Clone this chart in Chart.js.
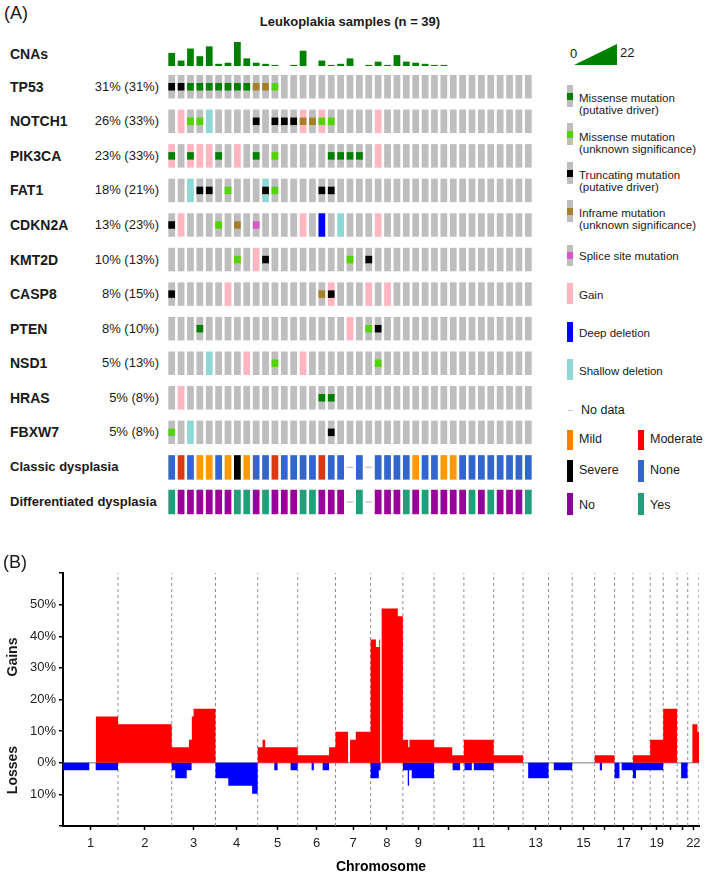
<!DOCTYPE html>
<html>
<head>
<meta charset="utf-8">
<title>Leukoplakia samples</title>
<script src="https://cdn.jsdelivr.net/npm/chart.js@4.4.1/dist/chart.umd.min.js"></script>
<style>
  html, body { margin: 0; padding: 0; background: #fff; }
  body { position: relative; width: 709px; height: 878px; overflow: hidden;
         font-family: "Liberation Sans", Arial, Helvetica, sans-serif; color: #1a1a1a; }
  canvas { position: absolute; }
  .txt { position: absolute; white-space: nowrap; }
  .panel { font-size: 18px; line-height: 20px; }
  .gene { font-size: 14px; font-weight: bold; line-height: 16px; }
  .pct { font-size: 13px; line-height: 16px; text-align: right; width: 90px; }
  .clin { font-size: 13px; font-weight: bold; line-height: 16px; }
  .leg { font-size: 11.5px; line-height: 12.8px; }
  .leg2 { font-size: 12.5px; line-height: 16px; }
  .icon { position: absolute; width: 5.5px; }
  .mark { position: absolute; left: 0; width: 100%; height: 7px; }
  .ylab { font-size: 14px; font-weight: bold; line-height: 16px; transform: translate(-50%, -50%) rotate(-90deg); }
</style>
</head>
<body>

<div class="txt panel" style="left:4px;top:3px">(A)</div>
<div class="txt" style="left:350px;top:14px;font-size:13px;font-weight:bold;line-height:16px;transform:translateX(-50%)">Leukoplakia samples (n = 39)</div>

<canvas id="cnaCanvas" width="366" height="24" style="left:167px;top:42px"></canvas>
<canvas id="oncoCanvas" width="366" height="450" style="left:167px;top:70px"></canvas>

<!-- legend -->
<div class="txt" style="left:570px;top:46px;font-size:13px;line-height:16px">0</div>
<svg style="position:absolute;left:574px;top:44px" width="43" height="21"><polygon points="0,21 43,0 43,21" fill="#008000"/></svg>
<div class="txt" style="left:620px;top:45px;font-size:13px;line-height:16px">22</div>

<div class="icon" style="left:567px;top:85px;height:22px;background:#bebebe"><div class="mark" style="top:8px;background:#008000"></div></div>
<div class="txt leg" style="left:579px;top:91.5px">Missense mutation<br>(putative driver)</div>
<div class="icon" style="left:567px;top:123px;height:22px;background:#bebebe"><div class="mark" style="top:8px;background:#53d400"></div></div>
<div class="txt leg" style="left:579px;top:130.5px">Missense mutation<br>(unknown significance)</div>
<div class="icon" style="left:567px;top:162px;height:22px;background:#bebebe"><div class="mark" style="top:8px;background:#000"></div></div>
<div class="txt leg" style="left:579px;top:168.5px">Truncating mutation<br>(putative driver)</div>
<div class="icon" style="left:567px;top:200px;height:22px;background:#bebebe"><div class="mark" style="top:8px;background:#a68028"></div></div>
<div class="txt leg" style="left:579px;top:206.5px">Inframe mutation<br>(unknown significance)</div>
<div class="icon" style="left:567px;top:245px;height:21px;background:#bebebe"><div class="mark" style="top:7px;background:#d557c8"></div></div>
<div class="txt leg" style="left:579px;top:249.5px">Splice site mutation</div>
<div class="icon" style="left:567px;top:283px;height:21px;background:#ffb6c1"></div>
<div class="txt leg" style="left:579px;top:288.5px">Gain</div>
<div class="icon" style="left:567px;top:322px;height:20px;background:#0000ff"></div>
<div class="txt leg" style="left:579px;top:326.5px">Deep deletion</div>
<div class="icon" style="left:567px;top:359px;height:21px;background:#8fd8d8"></div>
<div class="txt leg" style="left:579px;top:364.5px">Shallow deletion</div>
<div class="icon" style="left:568px;top:409.5px;height:1.5px;width:5px;background:#c8c8c8"></div>
<div class="txt leg2" style="left:581px;top:402px">No data</div>

<div class="icon" style="left:567px;top:430px;height:19.5px;background:#ff8000"></div>
<div class="txt leg2" style="left:579px;top:430.5px">Mild</div>
<div class="icon" style="left:638px;top:430px;height:19.5px;background:#ff0000"></div>
<div class="txt leg2" style="left:650px;top:430.5px">Moderate</div>
<div class="icon" style="left:567px;top:460px;height:22px;background:#000"></div>
<div class="txt leg2" style="left:579px;top:462px">Severe</div>
<div class="icon" style="left:638px;top:460px;height:22px;background:#3366cc"></div>
<div class="txt leg2" style="left:650px;top:462px">None</div>
<div class="icon" style="left:567px;top:493px;height:22px;background:#8b009b"></div>
<div class="txt leg2" style="left:579px;top:497px">No</div>
<div class="icon" style="left:638px;top:493px;height:22px;background:#1fa07a"></div>
<div class="txt leg2" style="left:650px;top:497px">Yes</div>

<!-- panel B -->
<canvas id="cnvCanvas" width="709" height="318" style="left:0;top:560px"></canvas>
<div class="txt panel" style="left:3px;top:552px">(B)</div>
<div class="txt ylab" style="left:12px;top:657px">Gains</div>
<div class="txt ylab" style="left:12px;top:770px">Losses</div>

<script>
// ---------- panel A data ----------
const genes = ['TP53', 'NOTCH1', 'PIK3CA', 'FAT1', 'CDKN2A', 'KMT2D', 'CASP8', 'PTEN', 'NSD1', 'HRAS', 'FBXW7'];
const genePct = ['31% (31%)', '26% (33%)', '23% (33%)', '18% (21%)', '13% (23%)', '10% (13%)',
                 '8% (15%)', '8% (10%)', '5% (13%)', '5% (8%)', '5% (8%)'];

// CNA count per sample (scale 0-22)
const cnaCounts = [12, 5, 16, 9, 18, 2, 3, 22, 7, 3, 2, 1, 0, 1, 14, 0, 5, 1, 2, 7,
                   0, 1, 4, 1, 10, 4, 3, 2, 1, 1, 0, 0, 0, 0, 0, 0, 0, 0, 0];

// mutations per sample: M missense driver, V missense VUS, T truncating driver, I inframe VUS, S splice
const mutRows = [
  'TTMMMMMMMIIV',
  '..VV.....T.TTTIIVV',
  'M.M..M...M.V.....MMMM',
  '...TT.V...TV....TT',
  'T....V.I.S',
  '.......V..T........V.T',
  'T...............IT',
  '...M.................VT',
  '...........V..........V',
  '................MM',
  'V................T'
].map(s => s.padEnd(39, '.'));

// copy number per sample: G gain, D deep deletion, H shallow deletion
const cnaRows = [
  '',
  '.G..H.........G.G.....G',
  'G.GGG..G..............G',
  '..H.......H',
  '.G............G.D.H...G',
  '.........G',
  '......G..........G...G.G',
  '...................G',
  '....H...G.....G',
  '.G',
  '..H'
].map(s => s.padEnd(39, '.'));

// clinical tracks, '-' = no data
const classicDysplasia = 'NRNMMNMSMNNRNNNNRNN-N-NNNNMNNMMNNNNNNNN';   // N none, R moderate, M mild, S severe
const diffDysplasia    = 'YNNNNNNYYNYNNNYYNNN-Y-NNNYNYNNNNYNYNNNY';   // Y yes, N no

// ---------- panel B data ----------
const chromLengths = [249, 243, 198, 191, 181, 171, 159, 146, 141, 135, 135, 133, 115, 107, 102, 90, 83, 78, 59, 63, 48, 51];
const chromTickLabels = ['1', '2', '3', '4', '5', '6', '7', '8', '9', '', '11', '', '13', '', '15', '', '17', '', '19', '', '', '22'];

// [start Mb, end Mb, % of samples] on the concatenated genome
const gainSegments = [
  [148, 249, 14.6],
  [249, 492, 12.2],
  [492, 570, 4.9], [570, 583, 7.3], [583, 591, 14.6], [591, 690, 17.1],
  [881, 903, 4.9], [903, 915, 7.3], [915, 1062, 4.9],
  [1062, 1204, 2.4], [1204, 1233, 4.9],
  [1233, 1290, 9.8], [1299, 1325, 7.3], [1325, 1392, 9.8],
  [1392, 1416, 39.0], [1416, 1431, 36.6], [1431, 1435, 39.0], [1442, 1515, 48.8], [1515, 1538, 46.3],
  [1538, 1562, 7.3], [1562, 1568, 4.9], [1568, 1679, 7.3],
  [1679, 1761, 4.9], [1761, 1814, 2.4],
  [1814, 1949, 7.3],
  [1949, 2082, 2.4],
  [2406, 2496, 2.4],
  [2579, 2657, 2.4],
  [2657, 2716, 7.3],
  [2716, 2779, 17.1],
  [2848, 2871, 12.2], [2871, 2878, 9.8]
];
const lossSegments = [
  [0, 119, 2.4], [148, 249, 2.4],
  [492, 508, 2.4], [508, 560, 4.9], [560, 582, 2.4],
  [690, 748, 4.9], [748, 856, 7.3], [856, 881, 9.8],
  [956, 971, 2.4], [1030, 1062, 2.4],
  [1125, 1135, 2.4], [1175, 1204, 2.4],
  [1392, 1429, 4.9], [1429, 1437, 2.4],
  [1538, 1560, 2.4], [1560, 1566, 7.3], [1566, 1578, 2.4], [1578, 1679, 4.9],
  [1763, 1797, 2.4],
  [1817, 1850, 2.4], [1859, 1949, 2.4],
  [2105, 2197, 4.9],
  [2221, 2304, 2.4],
  [2429, 2439, 2.4],
  [2496, 2518, 4.9], [2528, 2579, 2.4],
  [2579, 2593, 4.9], [2593, 2657, 2.4],
  [2657, 2716, 2.4],
  [2797, 2827, 4.9]
];

// ---------- colours ----------
const GRAY = '#bebebe';
const cnaColors = { '.': GRAY, G: '#ffb6c1', D: '#0000ff', H: '#8fd8d8' };
const mutColors = { M: '#008000', V: '#53d400', T: '#000000', I: '#a68028', S: '#d557c8' };
const classicColors = { N: '#3366cc', R: '#dc3912', M: '#ff9900', S: '#000000' };
const diffColors = { Y: '#1fa07a', N: '#990099' };

Chart.defaults.font.family = '"Liberation Sans", Arial, sans-serif';
Chart.defaults.color = '#1a1a1a';
Chart.defaults.animation = false;
Chart.defaults.plugins.legend.display = false;
Chart.defaults.plugins.tooltip.enabled = false;

const samples = cnaCounts.map((_, i) => i);

// ---------- row labels ----------
function addText(text, cls, left, centerY) {
  const d = document.createElement('div');
  d.className = 'txt ' + cls;
  d.textContent = text;
  d.style.left = left + 'px';
  d.style.top = (centerY - 8) + 'px';
  document.body.appendChild(d);
}
const ROW0 = 75, ROWSTEP = 34.56, ROWH = 23.5;
addText('CNAs', 'gene', 10, 54);
genes.forEach((g, i) => {
  const cy = ROW0 + i * ROWSTEP + ROWH / 2;
  addText(g, 'gene', 10, cy);
  addText(genePct[i], 'pct', 69, cy);
});
addText('Classic dysplasia', 'clin', 10, ROW0 + 11 * ROWSTEP + 12);
addText('Differentiated dysplasia', 'clin', 10, ROW0 + 12 * ROWSTEP + 12);

// ---------- CNA count bars ----------
new Chart(document.getElementById('cnaCanvas'), {
  type: 'bar',
  data: {
    labels: samples,
    datasets: [{ data: cnaCounts, backgroundColor: '#008000', barPercentage: 0.72, categoryPercentage: 1 }]
  },
  options: {
    responsive: false,
    devicePixelRatio: 1,
    scales: { x: { display: false }, y: { display: false, min: 0, max: 22 } }
  }
});

// ---------- oncoprint ----------
const oncoSets = [];
const top0 = ROW0 - 70;   // canvas starts at y = 70
genes.forEach((g, gi) => {
  const top = top0 + gi * ROWSTEP;
  const cna = cnaRows[gi], mut = mutRows[gi];
  oncoSets.push({
    data: samples.map(() => [top, top + ROWH]),
    backgroundColor: samples.map(s => cnaColors[cna[s]]),
    order: 2
  });
  oncoSets.push({
    data: samples.map(s => mut[s] === '.' ? null : [top + 8, top + 15.5]),
    backgroundColor: samples.map(s => mutColors[mut[s]] || 'transparent'),
    order: 1
  });
});
[[classicDysplasia, classicColors], [diffDysplasia, diffColors]].forEach(([track, colors], k) => {
  const top = top0 + (11 + k) * ROWSTEP;
  oncoSets.push({
    data: samples.map(s => track[s] === '-' ? [top + 11.5, top + 13] : [top, top + 24.5]),
    backgroundColor: samples.map(s => track[s] === '-' ? '#c8c8c8' : colors[track[s]]),
    order: 2
  });
});

new Chart(document.getElementById('oncoCanvas'), {
  type: 'bar',
  data: { labels: samples, datasets: oncoSets },
  options: {
    responsive: false,
    devicePixelRatio: 1,
    datasets: { bar: { grouped: false, barPercentage: 0.72, categoryPercentage: 1, borderWidth: 0 } },
    scales: {
      x: { display: false },
      y: { display: false, min: 0, max: 450, reverse: true }
    }
  }
});

// ---------- panel B: genome-wide CNA frequency ----------
const chromEnds = [];
const chromCenters = [];
let acc = 0;
chromLengths.forEach(len => {
  chromCenters.push(acc + len / 2);
  acc += len;
  chromEnds.push(acc);
});
const genomeEnd = acc;

function stepPoints(segs, sign) {
  const pts = [];
  segs.forEach(([s, e, v]) => {
    pts.push({ x: s, y: 0 }, { x: s, y: sign * v }, { x: e, y: sign * v }, { x: e, y: 0 });
  });
  return pts;
}

const cnvSets = chromEnds.map(b => ({
  data: [{ x: b, y: -20 }, { x: b, y: 60 }],
  borderColor: '#8c8c8c', borderWidth: 1, borderDash: [3, 3],
  pointRadius: 0, fill: false, order: 3
}));
cnvSets.push({
  data: stepPoints(gainSegments, 1),
  borderColor: 'transparent', borderWidth: 0, backgroundColor: '#ff0000',
  fill: 'origin', pointRadius: 0, order: 1
});
cnvSets.push({
  data: stepPoints(lossSegments, -1),
  borderColor: 'transparent', borderWidth: 0, backgroundColor: '#0000ff',
  fill: 'origin', pointRadius: 0, order: 1
});

new Chart(document.getElementById('cnvCanvas'), {
  type: 'line',
  data: { datasets: cnvSets },
  options: {
    responsive: false,
    devicePixelRatio: 1,
    layout: { padding: { top: 13, right: 10, left: 0, bottom: 0 } },
    scales: {
      x: {
        type: 'linear', min: 0, max: genomeEnd,
        afterBuildTicks: s => { s.ticks = chromCenters.map(v => ({ value: v })); },
        afterFit: s => { s.height = 52; },
        ticks: { autoSkip: false, maxRotation: 0, padding: 6, font: { size: 13 }, color: '#222',
                 callback: (v, i) => chromTickLabels[i] },
        grid: { drawOnChartArea: false, tickLength: 4, tickColor: '#000', tickWidth: 1.5 },
        border: { color: '#000', width: 2 },
        title: { display: true, text: 'Chromosome', color: '#000',
                 font: { size: 14, weight: 'bold' }, padding: { top: 4, bottom: 2 } }
      },
      y: {
        min: -20, max: 60,
        afterFit: s => { s.width = 63; },
        ticks: { stepSize: 10, padding: 3, font: { size: 13 }, color: '#222',
                 callback: v => (v === 60 || v === -20) ? '' : Math.abs(v) + '%' },
        grid: {
          color: c => (c.tick && c.tick.value === 0) ? '#a6a6a6' : 'transparent',
          lineWidth: 1.5, tickLength: 4, tickColor: '#000', tickWidth: 1.5
        },
        border: { color: '#000', width: 2 }
      }
    }
  }
});
</script>
</body>
</html>
